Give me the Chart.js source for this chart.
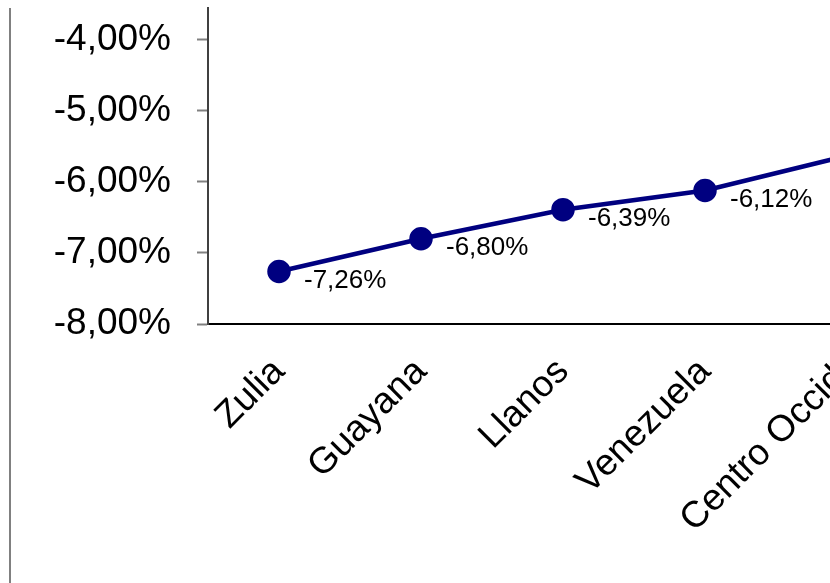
<!DOCTYPE html>
<html>
<head>
<meta charset="utf-8">
<script src="https://cdn.jsdelivr.net/npm/chart.js@4.4.1/dist/chart.umd.min.js"></script>
<style>
  html, body { margin: 0; padding: 0; background: #ffffff; overflow: hidden; width: 830px; height: 583px; }
  #wrap { position: absolute; left: 0; top: 0; width: 918px; height: 583px; }
</style>
</head>
<body>
<div id="wrap"><canvas id="c" width="918" height="583"></canvas></div>
<script>
// ---- Data ----
const categories = ["Zulia", "Guayana", "Llanos", "Venezuela", "Centro Occid."];
const values = [-7.26, -6.80, -6.39, -6.12, -5.63];
const yTickValues = [-8, -7, -6, -5, -4];

const FONT = "'Liberation Sans', Arial, sans-serif";
const fmt = v => v.toFixed(2).replace('.', ',') + '%';

const dataLabels = {
  id: 'dataLabels',
  afterDatasetsDraw(chart) {
    const ctx = chart.ctx;
    const meta = chart.getDatasetMeta(0);
    ctx.save();
    ctx.font = "26px " + FONT;
    ctx.fillStyle = '#000000';
    ctx.textAlign = 'left';
    ctx.textBaseline = 'middle';
    meta.data.forEach((pt, i) => {
      ctx.fillText(fmt(values[i]), pt.x + 25, pt.y + 9);
    });
    ctx.restore();
  }
};

const frameLine = {
  id: 'frameLine',
  afterDraw(chart) {
    const ctx = chart.ctx;
    ctx.save();
    ctx.strokeStyle = '#808080';
    ctx.lineWidth = 2;
    ctx.beginPath();
    ctx.moveTo(10, 8);
    ctx.lineTo(10, 583);
    ctx.stroke();
    ctx.restore();
  }
};

function noPad(scale) {
  scale.paddingTop = 0; scale.paddingBottom = 0;
  scale.paddingLeft = 0; scale.paddingRight = 0;
}

new Chart(document.getElementById('c'), {
  type: 'line',
  data: {
    labels: categories,
    datasets: [{
      data: values,
      borderColor: '#000080',
      backgroundColor: '#000080',
      borderWidth: 4.5,
      pointRadius: 9.5,
      pointHoverRadius: 9.5,
      pointBackgroundColor: '#000080',
      pointBorderColor: '#000080',
      tension: 0,
      fill: false
    }]
  },
  options: {
    responsive: false,
    animation: false,
    devicePixelRatio: 1,
    layout: { autoPadding: false, padding: { left: 0, top: 8, right: 0, bottom: 0 } },
    plugins: { legend: { display: false }, tooltip: { enabled: false }, title: { display: false } },
    scales: {
      x: {
        offset: true,
        grid: { display: true, drawOnChartArea: false, drawTicks: false, offset: true },
        border: { display: true, color: '#000000', width: 2 },
        ticks: {
          color: '#000000',
          font: { family: FONT, size: 37 },
          maxRotation: 45,
          minRotation: 45,
          autoSkip: false,
          padding: 26
        },
        afterFit(scale) { scale.height = 259; noPad(scale); }
      },
      y: {
        min: -8,
        max: -3.55,
        afterBuildTicks(scale) { scale.ticks = yTickValues.map(v => ({ value: v })); },
        grid: { drawOnChartArea: false, drawTicks: true, tickLength: 11, tickColor: '#808080', tickWidth: 2 },
        border: { display: true, color: '#404040', width: 2 },
        ticks: {
          color: '#000000',
          font: { family: FONT, size: 37 },
          padding: 26,
          callback: v => fmt(v)
        },
        afterFit(scale) { scale.width = 208; noPad(scale); }
      }
    }
  },
  plugins: [dataLabels, frameLine]
});
</script>
</body>
</html>
